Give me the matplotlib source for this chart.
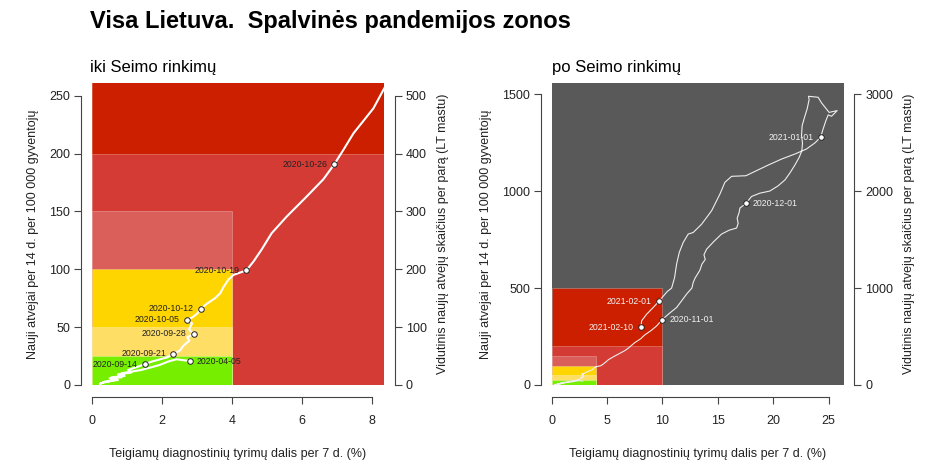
import matplotlib.pyplot as plt
from matplotlib.patches import Rectangle

plt.rcParams["font.family"] = ["Liberation Sans", "DejaVu Sans"]

# zones: nested rectangles starting at (0, 0)
zone_x = [10, 10, 4, 4, 4, 4]
zone_y = [500, 200, 150, 100, 50, 25]
zone_colors = ["#CC1F00", "#D43B35", "#DA5F5A", "#FFD500", "#FFDE66", "#76EE00"]

# trajectory: positive test share (%) vs cases per 14 d. per 100 000
traj_x = [2.81, 2.42, 2.18, 1.94, 1.70, 1.42, 1.13, 0.85, 0.94, 0.56, 0.75, 0.37, 0.23,
          0.32, 0.61, 0.51, 0.85, 0.75, 1.13, 1.04, 1.32, 1.51,
          1.71, 1.95, 2.16, 2.32, 2.52, 2.62, 2.79, 2.73, 2.91, 2.78, 2.87, 2.71, 2.88,
          3.02, 3.12, 3.28, 3.52, 3.67, 3.76, 3.90, 4.05, 4.42, 4.62, 4.86, 5.14, 5.57,
          6.14, 6.62, 6.93, 7.19, 7.48, 8.05, 8.36, 9.00, 9.48, 9.98,
          10.53, 11.28, 11.73, 12.18, 12.66, 12.78, 12.94, 13.39, 13.57, 13.87, 13.75,
          13.99, 14.65, 15.34, 16.03, 16.70, 16.84, 16.75, 16.93, 17.00, 17.54,
          18.05, 18.80, 19.70, 20.45, 21.06, 21.51, 21.96, 22.35, 22.59, 22.65, 22.56,
          22.62, 22.83, 23.07, 23.25, 23.19, 24.06, 24.37, 24.76, 25.05, 25.78, 25.27,
          24.97, 24.76, 24.51, 24.28, 23.76, 23.01, 21.96, 20.76, 19.55, 18.50, 17.54,
          16.25, 15.64, 15.19, 14.44, 13.54, 12.78, 12.33, 11.88, 11.52, 11.28, 11.10,
          10.83, 10.43, 10.02, 9.68, 9.17, 8.57, 8.12, 8.06]
traj_y = [20.7, 22.2, 20.2, 17.3, 15.3, 13.0, 11.5, 10.1, 7.8, 6.6, 4.3, 2.9, 0.9,
          2.0, 3.7, 5.8, 6.6, 9.2, 10.7, 13.0, 15.8, 17.9,
          20.2, 22.2, 23.9, 26.8, 29.7, 34.0, 38.3, 41.2, 44.1, 48.1, 53.3, 56.2, 58.5,
          61.9, 66.0, 70.0, 74.9, 79.2, 84.4, 90.8, 95.1, 99.1, 106.6, 117.3, 131.1, 145.5,
          162.8, 177.8, 190.7, 203.1, 217.5, 239.1, 256.4, 282.0, 305.0, 337.6,
          365, 400, 434, 469, 500, 529, 551, 593, 624, 648, 672,
          701, 741, 779, 799, 810, 834, 861, 891, 913, 937,
          973, 990, 1001, 1028, 1058, 1094, 1135, 1175, 1209, 1249, 1287,
          1339, 1381, 1425, 1473, 1490, 1485, 1456, 1428, 1407, 1416, 1387,
          1394, 1364, 1321, 1278, 1249, 1218, 1192, 1166, 1135, 1106, 1080,
          1077, 1046, 985, 899, 830, 787, 779, 736, 684, 624, 555,
          500, 482, 455, 432, 400, 365, 331, 298]

# labelled weeks
left_dates = ["2020-04-05", "2020-09-14", "2020-09-21", "2020-09-28", "2020-10-05",
              "2020-10-12", "2020-10-19", "2020-10-26"]
left_px = [2.81, 1.51, 2.32, 2.91, 2.71, 3.12, 4.42, 6.93]
left_py = [20.7, 17.9, 26.8, 44.1, 56.2, 66.0, 99.1, 190.7]
left_side = [1, -1, -1, -1, -1, -1, -1, -1]

right_dates = ["2020-11-01", "2020-12-01", "2021-01-01", "2021-02-01", "2021-02-10"]
right_px = [9.98, 17.54, 24.28, 9.68, 8.06]
right_py = [337.6, 937, 1278, 432, 298]
right_side = [1, 1, -1, -1, -1]

XLABEL = "Teigiamų diagnostinių tyrimų dalis per 7 d. (%)"
YLABEL = "Nauji atvejai per 14 d. per 100 000 gyventojų"
Y2LABEL = "Vidutinis naujų atvejų skaičius per parą (LT mastu)"
AXIS_COLOR = "#444444"


def style_axes(ax, ax2, xticks, yticks, y2ticks):
    for side in ["top", "right"]:
        ax.spines[side].set_visible(False)
    for side in ["top", "left", "bottom"]:
        ax2.spines[side].set_visible(False)
    ax.spines["left"].set_position(("outward", 7.5))
    ax.spines["bottom"].set_position(("outward", 8.5))
    ax2.spines["right"].set_position(("outward", 7.5))
    ax.spines["left"].set_bounds(yticks[0], yticks[-1])
    ax.spines["bottom"].set_bounds(xticks[0], xticks[-1])
    ax2.spines["right"].set_bounds(y2ticks[0], y2ticks[-1])
    for a in (ax, ax2):
        for sp in a.spines.values():
            sp.set_color(AXIS_COLOR)
            sp.set_linewidth(0.8)
        a.tick_params(length=5, width=0.8, color=AXIS_COLOR, labelsize=9,
                      labelcolor="#222222", pad=3)
    ax.tick_params(axis="x", pad=8)
    ax.set_xticks(xticks)
    ax.set_yticks(yticks)
    ax2.set_yticks(y2ticks)
    ax.set_xlabel(XLABEL, fontsize=9, color="#222222", labelpad=15)
    ax.set_ylabel(YLABEL, fontsize=9, color="#222222", labelpad=7)
    ax2.set_ylabel(Y2LABEL, fontsize=9, color="#222222", labelpad=7)


def draw_panel(ax, xmax, ymax, bg, lw, line_color, dates, px, py, side, txt_color):
    ax.set_facecolor(bg)
    for zx, zy, zc in zip(zone_x, zone_y, zone_colors):
        ax.add_patch(Rectangle((0, 0), zx, zy, facecolor=zc,
                               edgecolor=(1, 1, 1, 0.3), linewidth=0.6, zorder=1))
    ax.plot(traj_x, traj_y, color=line_color, linewidth=lw, zorder=3,
            solid_joinstyle="round")
    ax.plot(px, py, "o", markersize=4, markerfacecolor="white",
            markeredgecolor="#222222", markeredgewidth=0.7, zorder=4)
    for d, x, y, s in zip(dates, px, py, side):
        ax.annotate(d, (x, y), xytext=(5 * s, 0), textcoords="offset points",
                    ha="left" if s > 0 else "right", va="center",
                    fontsize=6.3, color=txt_color, zorder=5)
    ax.set_xlim(0, xmax)
    ax.set_ylim(0, ymax)
    ax2 = ax.twinx()
    ax2.set_ylim(0, ymax * 2)
    return ax2


fig = plt.figure(figsize=(9.4, 4.75), dpi=100)
ax_l = fig.add_axes([0.0976, 0.1895, 0.3112, 0.6351])
ax_r = fig.add_axes([0.5869, 0.1895, 0.3110, 0.6351])

ax_l2 = draw_panel(ax_l, 8.36, 260.7, "#CC1F00", 1.5, "white",
                   left_dates, left_px, left_py, left_side, "#222222")
style_axes(ax_l, ax_l2, [0, 2, 4, 6, 8], [0, 50, 100, 150, 200, 250],
           [0, 100, 200, 300, 400, 500])

ax_r2 = draw_panel(ax_r, 26.4, 1557, "#595959", 0.8, "#EEEEEE",
                   right_dates, right_px, right_py, right_side, "#F2F2F2")
style_axes(ax_r, ax_r2, [0, 5, 10, 15, 20, 25], [0, 500, 1000, 1500],
           [0, 1000, 2000, 3000])

fig.text(0.0957, 0.955, "Visa Lietuva.  Spalvinės pandemijos zonos",
         fontsize=17, fontweight="bold", ha="left", va="center")
fig.text(0.0957, 0.857, "iki Seimo rinkimų", fontsize=12, ha="left", va="center")
fig.text(0.5869, 0.857, "po Seimo rinkimų", fontsize=12, ha="left", va="center")

fig.savefig("out.png", dpi=100)
